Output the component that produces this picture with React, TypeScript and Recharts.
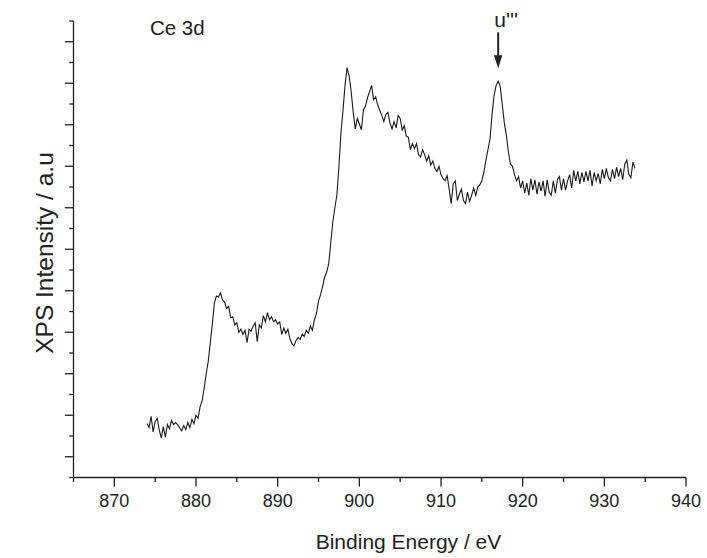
import React from 'react';
import { LineChart, Line, XAxis, YAxis, ReferenceDot, Customized } from 'recharts';

// Scan grid (binding energy, eV)
const scanStart = 874;
const scanStep = 0.25;

// Ce 3d XPS intensity (a.u.), one value per scan step
const intensity: number[] = [
  // 874.00 - 879.75
  2.6, 2.4, 2.95, 2.2, 2.7, 2.85, 2.3, 1.9, 2.45, 1.95, 2.55, 2.35,
  2.75, 2.55, 2.65, 2.55, 2.4, 2.25, 2.5, 2.3, 2.65, 2.4, 2.8, 2.6,
  // 880.00 - 884.75
  3.0, 2.85, 3.4, 3.7, 4.3, 5.0, 5.6, 6.5, 7.4, 8.4, 8.75, 8.7,
  8.9, 8.55, 8.45, 8.15, 8.25, 7.7, 7.75, 7.35,
  // 885.00 - 889.75
  7.45, 7.0, 7.15, 6.9, 7.1, 6.5, 7.15, 7.05, 7.3, 7.45, 6.55, 7.35,
  7.2, 7.8, 7.5, 7.95, 7.6, 7.75, 7.5, 7.6,
  // 890.00 - 894.75
  7.4, 7.5, 6.9, 7.2, 6.95, 7.15, 6.7, 6.45, 6.35, 6.6, 6.75, 6.65,
  6.9, 6.8, 7.1, 6.95, 7.3, 7.1, 7.6, 7.9,
  // 895.00 - 899.75
  8.5, 8.8, 9.2, 9.65, 9.9, 10.3, 11.3, 12.3, 13.0, 13.6, 15.0, 16.6,
  17.7, 18.9, 19.75, 19.35, 18.6, 17.6, 16.8, 17.3,
  // 900.00 - 904.75
  17.05, 16.75, 17.7, 17.9, 18.3, 18.6, 18.9, 18.2, 18.35, 17.95, 17.7, 17.45,
  17.15, 17.5, 17.6, 17.1, 16.8, 17.15, 16.85, 17.45,
  // 905.00 - 909.75
  17.3, 16.75, 16.95, 16.45, 16.4, 15.8, 16.1, 15.85, 16.1, 15.55, 15.45, 15.8,
  15.55, 15.25, 15.5, 15.05, 15.25, 14.9, 14.75, 15.0,
  // 910.00 - 914.75
  14.6, 14.4, 14.3, 14.55, 13.9, 13.2, 14.15, 14.3, 13.35, 13.65, 13.9, 13.35,
  13.2, 13.75, 13.3, 13.6, 13.95, 13.6, 14.0, 14.1,
  // 915.00 - 919.75
  14.3, 14.7, 15.3, 15.8, 16.3, 17.5, 18.4, 18.9, 19.1, 18.85, 18.0, 17.1,
  16.5, 15.7, 15.1, 15.0, 14.6, 14.3, 14.5, 13.95,
  // 920.00 - 924.75
  14.3, 13.7, 14.2, 13.6, 14.4, 13.85, 14.35, 13.65, 14.25, 13.8, 14.3, 13.55,
  14.35, 13.75, 13.6, 14.3, 13.7, 14.35, 14.5, 13.85,
  // 925.00 - 929.75
  14.4, 13.85, 14.3, 14.6, 13.95, 14.8, 14.3, 14.75, 14.15, 14.7, 14.25, 14.75,
  14.3, 14.8, 14.05, 14.7, 14.3, 14.65, 14.15, 14.85,
  // 930.00 - 933.75
  14.4, 14.9, 14.45, 14.3, 14.85, 14.4, 14.95, 14.5, 14.9, 14.35, 15.1, 15.3,
  14.6, 14.45, 15.2, 14.9,
];

const xTicks: number[] = [865, 870, 875, 880, 885, 890, 895, 900, 905, 910, 915, 920, 925, 930, 935, 940];
const xMajorTicks: number[] = [870, 880, 890, 900, 910, 920, 930, 940];
const yTicks: number[] = [0, 1, 2, 3, 4, 5, 6, 7, 8, 9, 10, 11, 12, 13, 14, 15, 16, 17, 18, 19, 20, 21, 22];
const yMajorTicks: number[] = [1, 3, 5, 7, 9, 11, 13, 15, 17, 19, 21];

const peakLabel = "u'''";
const peakPosition = { x: 917, y: 19.72 };
const regionLabel = 'Ce 3d';
const regionPosition = { x: 874.36, y: 21.33 };
const xTitle = 'Binding Energy / eV';
const yTitle = 'XPS Intensity / a.u';

const data = intensity.map((v, i) => ({ x: scanStart + i * scanStep, y: v }));

const FONT = '"Liberation Sans", Arial, Helvetica, sans-serif';
const INK = '#222';

const XTick = (props: any) => {
  const { x, y, payload } = props;
  const major = xMajorTicks.includes(payload.value);
  return (
    <g>
      <line x1={x} x2={x} y1={y} y2={y + (major ? 9 : 4.5)} stroke={INK} strokeWidth={1.3} />
      {major && (
        <text x={x} y={y + 29} textAnchor="middle" fontSize={18} fontFamily={FONT} fill={INK}>
          {payload.value}
        </text>
      )}
    </g>
  );
};

const YTick = (props: any) => {
  const { x, y, payload } = props;
  const major = yMajorTicks.includes(payload.value);
  return <line x1={x} x2={x - (major ? 8.7 : 4.3)} y1={y} y2={y} stroke={INK} strokeWidth={1.3} />;
};

const PeakArrow = (props: any) => {
  const { cx, cy } = props;
  return (
    <g>
      <line x1={cx} x2={cx} y1={cy - 36} y2={cy - 12} stroke={INK} strokeWidth={2} />
      <path d={`M${cx - 4.2},${cy - 13} L${cx + 4.2},${cy - 13} L${cx},${cy} Z`} fill={INK} />
      <text x={cx - 3.8} y={cy - 41.5} fontSize={21} fontFamily={FONT} fill={INK}>
        {peakLabel}
      </text>
    </g>
  );
};

const RegionText = (props: any) => {
  const { cx, cy } = props;
  return (
    <text x={cx} y={cy} fontSize={20.5} fontFamily={FONT} fill={INK}>
      {regionLabel}
    </text>
  );
};

const Titles = () => (
  <g>
    <text x={408.5} y={549} textAnchor="middle" fontSize={21} fontFamily={FONT} fill={INK}>
      {xTitle}
    </text>
    <text
      x={53}
      y={253}
      transform="rotate(-90 53 253)"
      textAnchor="middle"
      fontSize={24.5}
      fontFamily={FONT}
      fill={INK}
    >
      {yTitle}
    </text>
  </g>
);

export default function App() {
  return (
    <div style={{ position: 'absolute', left: 0, top: 0, background: '#fff' }}>
      <LineChart
        width={707}
        height={558}
        data={data}
        margin={{ top: 21, right: 21, bottom: 50.5, left: 0 }}
      >
        <XAxis
          type="number"
          dataKey="x"
          domain={[865, 940]}
          ticks={xTicks}
          interval={0}
          height={30}
          tickSize={0}
          tickMargin={0}
          tickLine={false}
          tick={<XTick />}
          axisLine={{ stroke: INK, strokeWidth: 1.3 }}
          allowDataOverflow
        />
        <YAxis
          type="number"
          domain={[0, 22]}
          ticks={yTicks}
          interval={0}
          width={73.5}
          tickSize={0}
          tickMargin={0}
          tickLine={false}
          tick={<YTick />}
          axisLine={{ stroke: INK, strokeWidth: 1.3 }}
          allowDataOverflow
        />
        <Line
          type="linear"
          dataKey="y"
          stroke="#1a1a1a"
          strokeWidth={1.1}
          dot={false}
          isAnimationActive={false}
        />
        <ReferenceDot x={peakPosition.x} y={peakPosition.y} r={0} ifOverflow="visible" shape={<PeakArrow />} />
        <ReferenceDot x={regionPosition.x} y={regionPosition.y} r={0} ifOverflow="visible" shape={<RegionText />} />
        <Customized component={Titles} />
      </LineChart>
    </div>
  );
}
